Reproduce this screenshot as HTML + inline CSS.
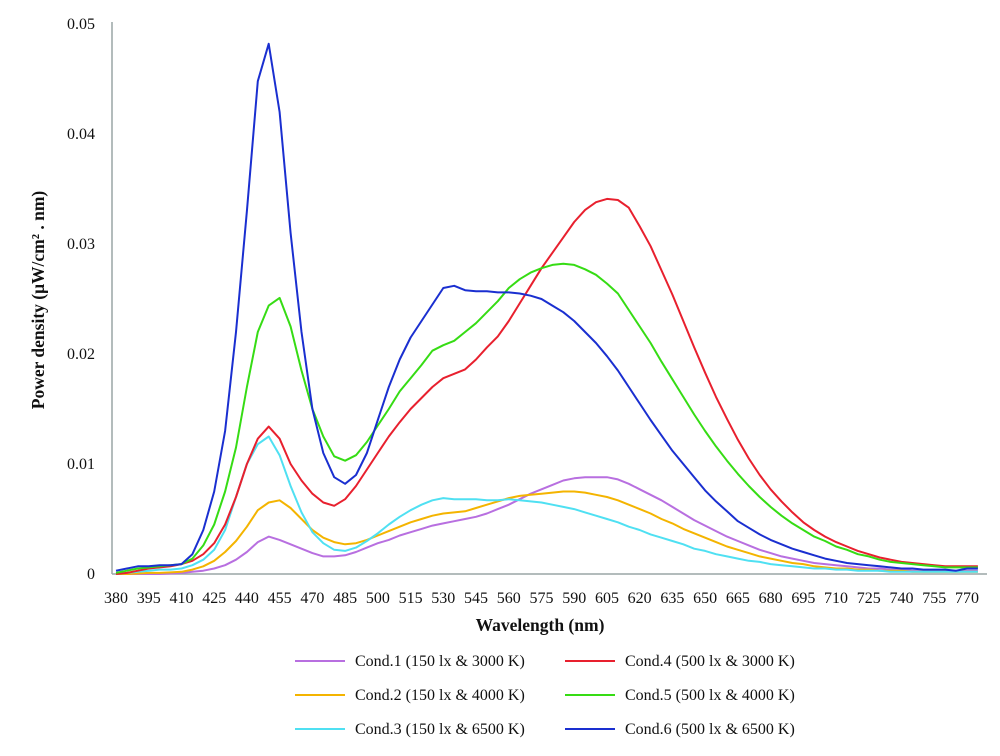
<!DOCTYPE html>
<html><head><meta charset="utf-8"><style>
body{margin:0;background:#fff;}
svg text{font-family:"Liberation Serif","DejaVu Serif",serif;fill:#111;}
</style></head><body>
<svg id="chart" width="1000" height="751" xmlns="http://www.w3.org/2000/svg">
<g id="axes"></g>
<g id="series"></g>
<text x="540" y="631" text-anchor="middle" font-size="17.5" font-weight="bold">Wavelength (nm)</text>
<text transform="translate(44,300) rotate(-90)" text-anchor="middle" font-size="17.5" font-weight="bold">Power density (μW/cm² . nm)</text>
<g id="legend"></g>
</svg>
<script>
const wavelengths = [];
for (let w = 380; w <= 775; w += 5) wavelengths.push(w);
const xTicks = [380,395,410,425,440,455,470,485,500,515,530,545,560,575,590,605,620,635,650,665,680,695,710,725,740,755,770];
const yTicks = [0,0.01,0.02,0.03,0.04,0.05];
const yTickLabels = ["0","0.01","0.02","0.03","0.04","0.05"];
const seriesNames = ["Cond.1 (150 lx & 3000 K)","Cond.2 (150 lx & 4000 K)","Cond.3 (150 lx & 6500 K)","Cond.4 (500 lx & 3000 K)","Cond.5 (500 lx & 4000 K)","Cond.6 (500 lx & 6500 K)"];
const cond1 = [0,0,0,0,0,0.05,0.1,0.2,0.3,0.5,0.8,1.3,2,2.9,3.4,3.1,2.7,2.3,1.9,1.6,1.6,1.7,2,2.4,2.8,3.1,3.5,3.8,4.1,4.4,4.6,4.8,5,5.2,5.5,5.9,6.3,6.8,7.3,7.7,8.1,8.5,8.7,8.8,8.8,8.8,8.6,8.2,7.7,7.2,6.7,6.1,5.5,4.9,4.4,3.9,3.4,3,2.6,2.2,1.9,1.6,1.4,1.2,1,0.9,0.8,0.7,0.6,0.5,0.5,0.4,0.4,0.3,0.3,0.3,0.3,0.3,0.3,0.3];
const cond2 = [0,0,0.05,0.1,0.1,0.15,0.2,0.4,0.7,1.2,2,3,4.3,5.8,6.5,6.7,6,5,4,3.3,2.9,2.7,2.8,3.1,3.5,3.9,4.3,4.7,5,5.3,5.5,5.6,5.7,6,6.3,6.6,6.9,7.1,7.2,7.3,7.4,7.5,7.5,7.4,7.2,7,6.7,6.3,5.9,5.5,5,4.6,4.1,3.7,3.3,2.9,2.5,2.2,1.9,1.6,1.4,1.2,1,0.9,0.7,0.6,0.5,0.5,0.4,0.4,0.3,0.3,0.3,0.2,0.2,0.2,0.2,0.2,0.2,0.2];
const cond3 = [0,0.1,0.2,0.3,0.4,0.4,0.5,0.8,1.3,2.2,4,7,10,11.8,12.5,10.8,8,5.6,3.8,2.8,2.2,2.1,2.4,3,3.7,4.5,5.2,5.8,6.3,6.7,6.9,6.8,6.8,6.8,6.7,6.7,6.8,6.7,6.6,6.5,6.3,6.1,5.9,5.6,5.3,5,4.7,4.3,4,3.6,3.3,3,2.7,2.3,2.1,1.8,1.6,1.4,1.2,1.1,0.9,0.8,0.7,0.6,0.5,0.5,0.4,0.4,0.3,0.3,0.3,0.2,0.2,0.2,0.2,0.2,0.2,0.2,0.2,0.2];
const cond4 = [0,0.1,0.3,0.5,0.6,0.7,0.9,1.2,1.8,2.8,4.5,7,10,12.3,13.4,12.3,10,8.5,7.3,6.5,6.2,6.8,8,9.5,11,12.5,13.8,15,16,17,17.8,18.2,18.6,19.5,20.6,21.6,23,24.6,26.2,27.8,29.2,30.6,32,33.1,33.8,34.1,34,33.3,31.6,29.8,27.6,25.4,23,20.6,18.3,16.1,14.1,12.2,10.5,9,7.7,6.6,5.6,4.7,4,3.4,2.9,2.5,2.1,1.8,1.5,1.3,1.1,1,0.9,0.8,0.7,0.7,0.7,0.7];
const cond5 = [0.1,0.3,0.5,0.6,0.7,0.8,0.9,1.4,2.6,4.5,7.5,11.5,17,22,24.4,25.1,22.5,18.5,15,12.5,10.7,10.3,10.8,12,13.5,15,16.6,17.8,19,20.3,20.8,21.2,22,22.8,23.8,24.8,26,26.8,27.4,27.8,28.1,28.2,28.1,27.7,27.2,26.4,25.5,24,22.5,21,19.3,17.7,16.1,14.5,13,11.6,10.3,9.1,8,7,6.1,5.3,4.6,4,3.4,3,2.5,2.2,1.8,1.6,1.3,1.1,1,0.9,0.8,0.7,0.6,0.6,0.6,0.6];
const cond6 = [0.3,0.5,0.7,0.7,0.8,0.8,0.9,1.8,4,7.5,13,22,33,44.8,48.2,42,31,22,15,11,8.8,8.2,9,11,14,17,19.5,21.5,23,24.5,26,26.2,25.8,25.7,25.7,25.6,25.6,25.5,25.3,25,24.4,23.8,23,22,21,19.8,18.5,17,15.5,14,12.6,11.2,10,8.8,7.6,6.6,5.7,4.8,4.2,3.6,3.1,2.7,2.3,2,1.7,1.4,1.2,1,0.9,0.8,0.7,0.6,0.5,0.5,0.4,0.4,0.4,0.3,0.5,0.5];
const colors = ["#b86fe0","#f4b400","#4fe0f2","#e8202e","#36dc14","#1a2fd0"];

const NS = "http://www.w3.org/2000/svg";
function X(w){ return 116 + (w - 380) * 2.182; }
function Y(v){ return 574 - v * 11000; }
function mk(tag, attrs, parent){ const e = document.createElementNS(NS, tag); for (const k in attrs) e.setAttribute(k, attrs[k]); parent.appendChild(e); return e; }

const axes = document.getElementById('axes');
const yAxis = mk('line', {x1:112, y1:22, x2:112, y2:574, stroke:'#9aa5a5', 'stroke-width':1.5}, axes);


const xAxis = mk('line', {x1:112, y1:574, x2:987, y2:574, stroke:'#9aa5a5', 'stroke-width':1.5}, axes);


yTicks.forEach((t, i) => {
  const tx = mk('text', {x:95, y:Y(t) + 5, 'text-anchor':'end', 'font-size':16}, axes);
  tx.textContent = yTickLabels[i];
  
  
});
xTicks.forEach(t => {
  const tx = mk('text', {x:X(t), y:603, 'text-anchor':'middle', 'font-size':16}, axes);
  tx.textContent = t;
  
  
});

const allSeries = [cond1, cond2, cond3, cond4, cond5, cond6];
const sg = document.getElementById('series');
allSeries.forEach((s, i) => {
  const pts = s.map((v, j) => X(wavelengths[j]).toFixed(1) + ',' + Y(v / 1000).toFixed(1)).join(' ');
  const pl = mk('polyline', {points:pts, fill:'none', stroke:colors[i], 'stroke-width':2, 'stroke-linejoin':'round'}, sg);
  
  
});

const lg = document.getElementById('legend');
const rowsY = [661, 695, 729];
seriesNames.forEach((n, i) => {
  const col = Math.floor(i / 3), row = i % 3;
  const lx = col === 0 ? 295 : 565;
  const ln = mk('line', {x1:lx, y1:rowsY[row], x2:lx + 50, y2:rowsY[row], stroke:colors[i], 'stroke-width':2}, lg);
  
  
  const tx = mk('text', {x:lx + 60, y:rowsY[row] + 5, 'font-size':16}, lg);
  tx.textContent = n;
  
  
});
</script>
</body></html>
